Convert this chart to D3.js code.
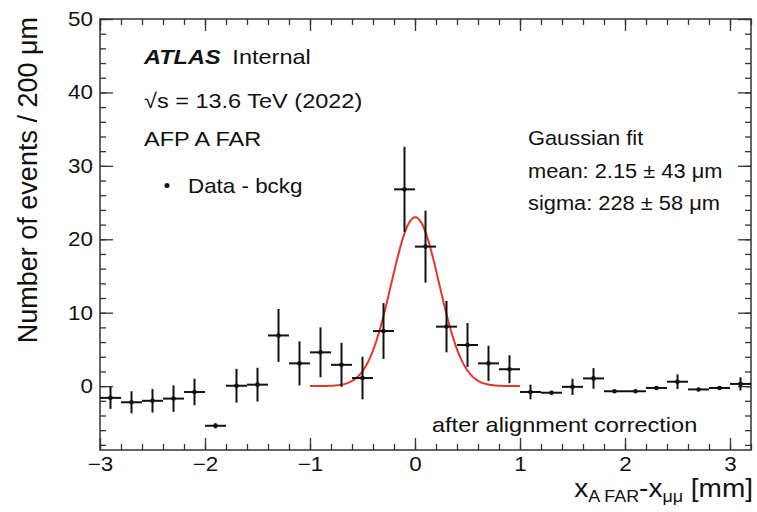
<!DOCTYPE html>
<html>
<head>
<meta charset="utf-8">
<script src="https://cdn.jsdelivr.net/npm/d3@7"></script>
<style>
  body { margin: 0; background: #fff; }
  svg text { font-family: "Liberation Sans", Arial, Helvetica, sans-serif; fill: #111; }
</style>
</head>
<body>
<div id="chart"></div>
<script>

// bin centres (0.2 mm bins)
var binCenters = [-2.9, -2.7, -2.5, -2.3, -2.1, -1.9, -1.7, -1.5, -1.3, -1.1,
  -0.9, -0.7, -0.5, -0.3, -0.1, 0.1, 0.3, 0.5, 0.7, 0.9,
  1.1, 1.3, 1.5, 1.7, 1.9, 2.1, 2.3, 2.5, 2.7, 2.9, 3.1];

// data - background
var counts = [-1.6, -2.2, -2.0, -1.7, -0.8, -5.4, 0.05, 0.2, 6.9, 3.1,
  4.6, 2.9, 1.1, 7.5, 26.8, 19.0, 8.1, 5.6, 3.1, 2.3,
  -0.8, -0.9, -0.1, 1.05, -0.7, -0.7, -0.25, 0.6, -0.45, -0.25, 0.3];

var errors = [1.5, 1.5, 1.6, 1.8, 1.8, 0.35, 2.3, 2.3, 3.6, 3.0,
  3.4, 3.0, 2.9, 3.8, 5.8, 4.9, 3.5, 3.0, 2.4, 1.9,
  1.0, 0.2, 1.1, 1.4, 0.2, 0.2, 0.25, 1.0, 0.2, 0.2, 0.9];

var binHalf = 0.1;

// gaussian fit (mm)
var fitAmp = 23.0, fitMean = 0.00215, fitSigma = 0.228;
var fitRange = [-1, 1];

var xMajorTicks = [-3, -2, -1, 0, 1, 2, 3];
var yMajorTicks = [0, 10, 20, 30, 40, 50];

var W = 757, H = 512;
var margin = {top: 19, right: 6, bottom: 62, left: 100};
var sx = 1.12; // text in the reference is a bit wide

var x = d3.scaleLinear().domain([-3, 3.2]).range([margin.left, W - margin.right]);
var y = d3.scaleLinear().domain([-8.7, 50]).range([H - margin.bottom, margin.top]);

var svg = d3.select("#chart").append("svg")
  .attr("width", W).attr("height", H);

svg.append("rect").attr("width", W).attr("height", H).attr("fill", "#fff");

var minorX = d3.range(-3, 3.21, 0.2).map(d => +d.toFixed(1));
var minorY = d3.range(-8, 50.1, 2);

function fmt(d) { return d < 0 ? "\u2212" + Math.abs(d) : "" + d; }

// axes, ticks pointing inward (ROOT style)
var x0 = y.range()[0], x1 = y.range()[1];
var bottomMajor = svg.append("g").attr("transform", "translate(0," + x0 + ")")
  .call(d3.axisBottom(x).tickValues(xMajorTicks).tickSizeInner(-12).tickSizeOuter(0).tickPadding(7).tickFormat(fmt));
var bottomMinor = svg.append("g").attr("transform", "translate(0," + x0 + ")")
  .call(d3.axisBottom(x).tickValues(minorX).tickSizeInner(-6).tickSizeOuter(0).tickFormat(""));
var topMajor = svg.append("g").attr("transform", "translate(0," + x1 + ")")
  .call(d3.axisTop(x).tickValues(xMajorTicks).tickSizeInner(-12).tickSizeOuter(0).tickFormat(""));
var topMinor = svg.append("g").attr("transform", "translate(0," + x1 + ")")
  .call(d3.axisTop(x).tickValues(minorX).tickSizeInner(-6).tickSizeOuter(0).tickFormat(""));
var leftMajor = svg.append("g").attr("transform", "translate(" + margin.left + ",0)")
  .call(d3.axisLeft(y).tickValues(yMajorTicks).tickSizeInner(-13).tickSizeOuter(0).tickPadding(7).tickFormat(fmt));
var leftMinor = svg.append("g").attr("transform", "translate(" + margin.left + ",0)")
  .call(d3.axisLeft(y).tickValues(minorY).tickSizeInner(-6).tickSizeOuter(0).tickFormat(""));
var rightMajor = svg.append("g").attr("transform", "translate(" + (W - margin.right) + ",0)")
  .call(d3.axisRight(y).tickValues(yMajorTicks).tickSizeInner(-13).tickSizeOuter(0).tickFormat(""));
var rightMinor = svg.append("g").attr("transform", "translate(" + (W - margin.right) + ",0)")
  .call(d3.axisRight(y).tickValues(minorY).tickSizeInner(-6).tickSizeOuter(0).tickFormat(""));

svg.selectAll(".domain").remove();
svg.selectAll(".tick line").attr("stroke", "#333").attr("stroke-width", 1.3);
svg.selectAll(".tick text").attr("font-size", 20).attr("fill", "#111");

// stretch the tick labels a bit
bottomMajor.selectAll(".tick text").attr("transform", "scale(" + sx + ",1)").attr("x", 0);
leftMajor.selectAll(".tick text").each(function() {
  var t = d3.select(this);
  var xx = +t.attr("x");
  t.attr("x", xx / sx).attr("transform", "scale(" + sx + ",1)");
});

// frame
svg.append("rect")
  .attr("x", margin.left).attr("y", margin.top)
  .attr("width", W - margin.right - margin.left)
  .attr("height", H - margin.bottom - margin.top)
  .attr("fill", "none").attr("stroke", "#333").attr("stroke-width", 1.5);

// gaussian fit curve
var fitX = d3.range(fitRange[0], fitRange[1] + 0.0001, 0.01);
var gauss = d => fitAmp * Math.exp(-Math.pow(d - fitMean, 2) / (2 * fitSigma * fitSigma));
svg.append("path")
  .datum(fitX)
  .attr("fill", "none")
  .attr("stroke", "#e8352b")
  .attr("stroke-width", 2)
  .attr("d", d3.line().x(d => x(d)).y(d => y(gauss(d))));

// data points with error bars
var pts = svg.append("g").selectAll("g")
  .data(binCenters.map((c, i) => ({x: c, y: counts[i], e: errors[i]})))
  .enter().append("g");

pts.append("line")
  .attr("x1", d => x(d.x - binHalf)).attr("x2", d => x(d.x + binHalf))
  .attr("y1", d => y(d.y)).attr("y2", d => y(d.y))
  .attr("stroke", "#111").attr("stroke-width", 2);
pts.append("line")
  .attr("x1", d => x(d.x)).attr("x2", d => x(d.x))
  .attr("y1", d => y(d.y - d.e)).attr("y2", d => y(d.y + d.e))
  .attr("stroke", "#111").attr("stroke-width", 2);
pts.append("circle")
  .attr("cx", d => x(d.x)).attr("cy", d => y(d.y))
  .attr("r", 2.3).attr("fill", "#111");

// labels
function label(px, py, size, anchor) {
  return svg.append("text")
    .attr("transform", "translate(" + px + "," + py + ") scale(" + sx + ",1)")
    .attr("font-size", size)
    .attr("text-anchor", anchor || "start");
}

var atlas = label(144, 64, 21);
atlas.append("tspan").attr("font-weight", "bold").attr("font-style", "italic").text("ATLAS");
atlas.append("tspan").text("\u2002Internal");

label(144, 108, 21).text("\u221As = 13.6 TeV (2022)");
label(144, 146, 21).text("AFP A FAR");

svg.append("circle").attr("cx", 167).attr("cy", 185.5).attr("r", 2.5).attr("fill", "#111");
label(188, 193, 20).text("Data - bckg");

label(528, 145, 19.5).text("Gaussian fit");
label(528, 178, 19.5).text("mean: 2.15 \u00B1 43 \u03BCm");
label(528, 210, 19.5).text("sigma: 228 \u00B1 58 \u03BCm");

label(432, 432, 21).text("after alignment correction");

// x title
var xt = label(W - 4, 497, 25, "end");
xt.append("tspan").text("x");
xt.append("tspan").attr("font-size", 16).attr("dy", 5).text("A FAR");
xt.append("tspan").attr("dy", -5).text("-x");
xt.append("tspan").attr("font-size", 16).attr("dy", 5).text("\u03BC\u03BC");
xt.append("tspan").attr("dy", -5).text(" [mm]");

// y title
svg.append("text")
  .attr("transform", "translate(37,17) rotate(-90)")
  .attr("font-size", 27)
  .attr("text-anchor", "end")
  .text("Number of events / 200 \u03BCm");

</script>
</body>
</html>
